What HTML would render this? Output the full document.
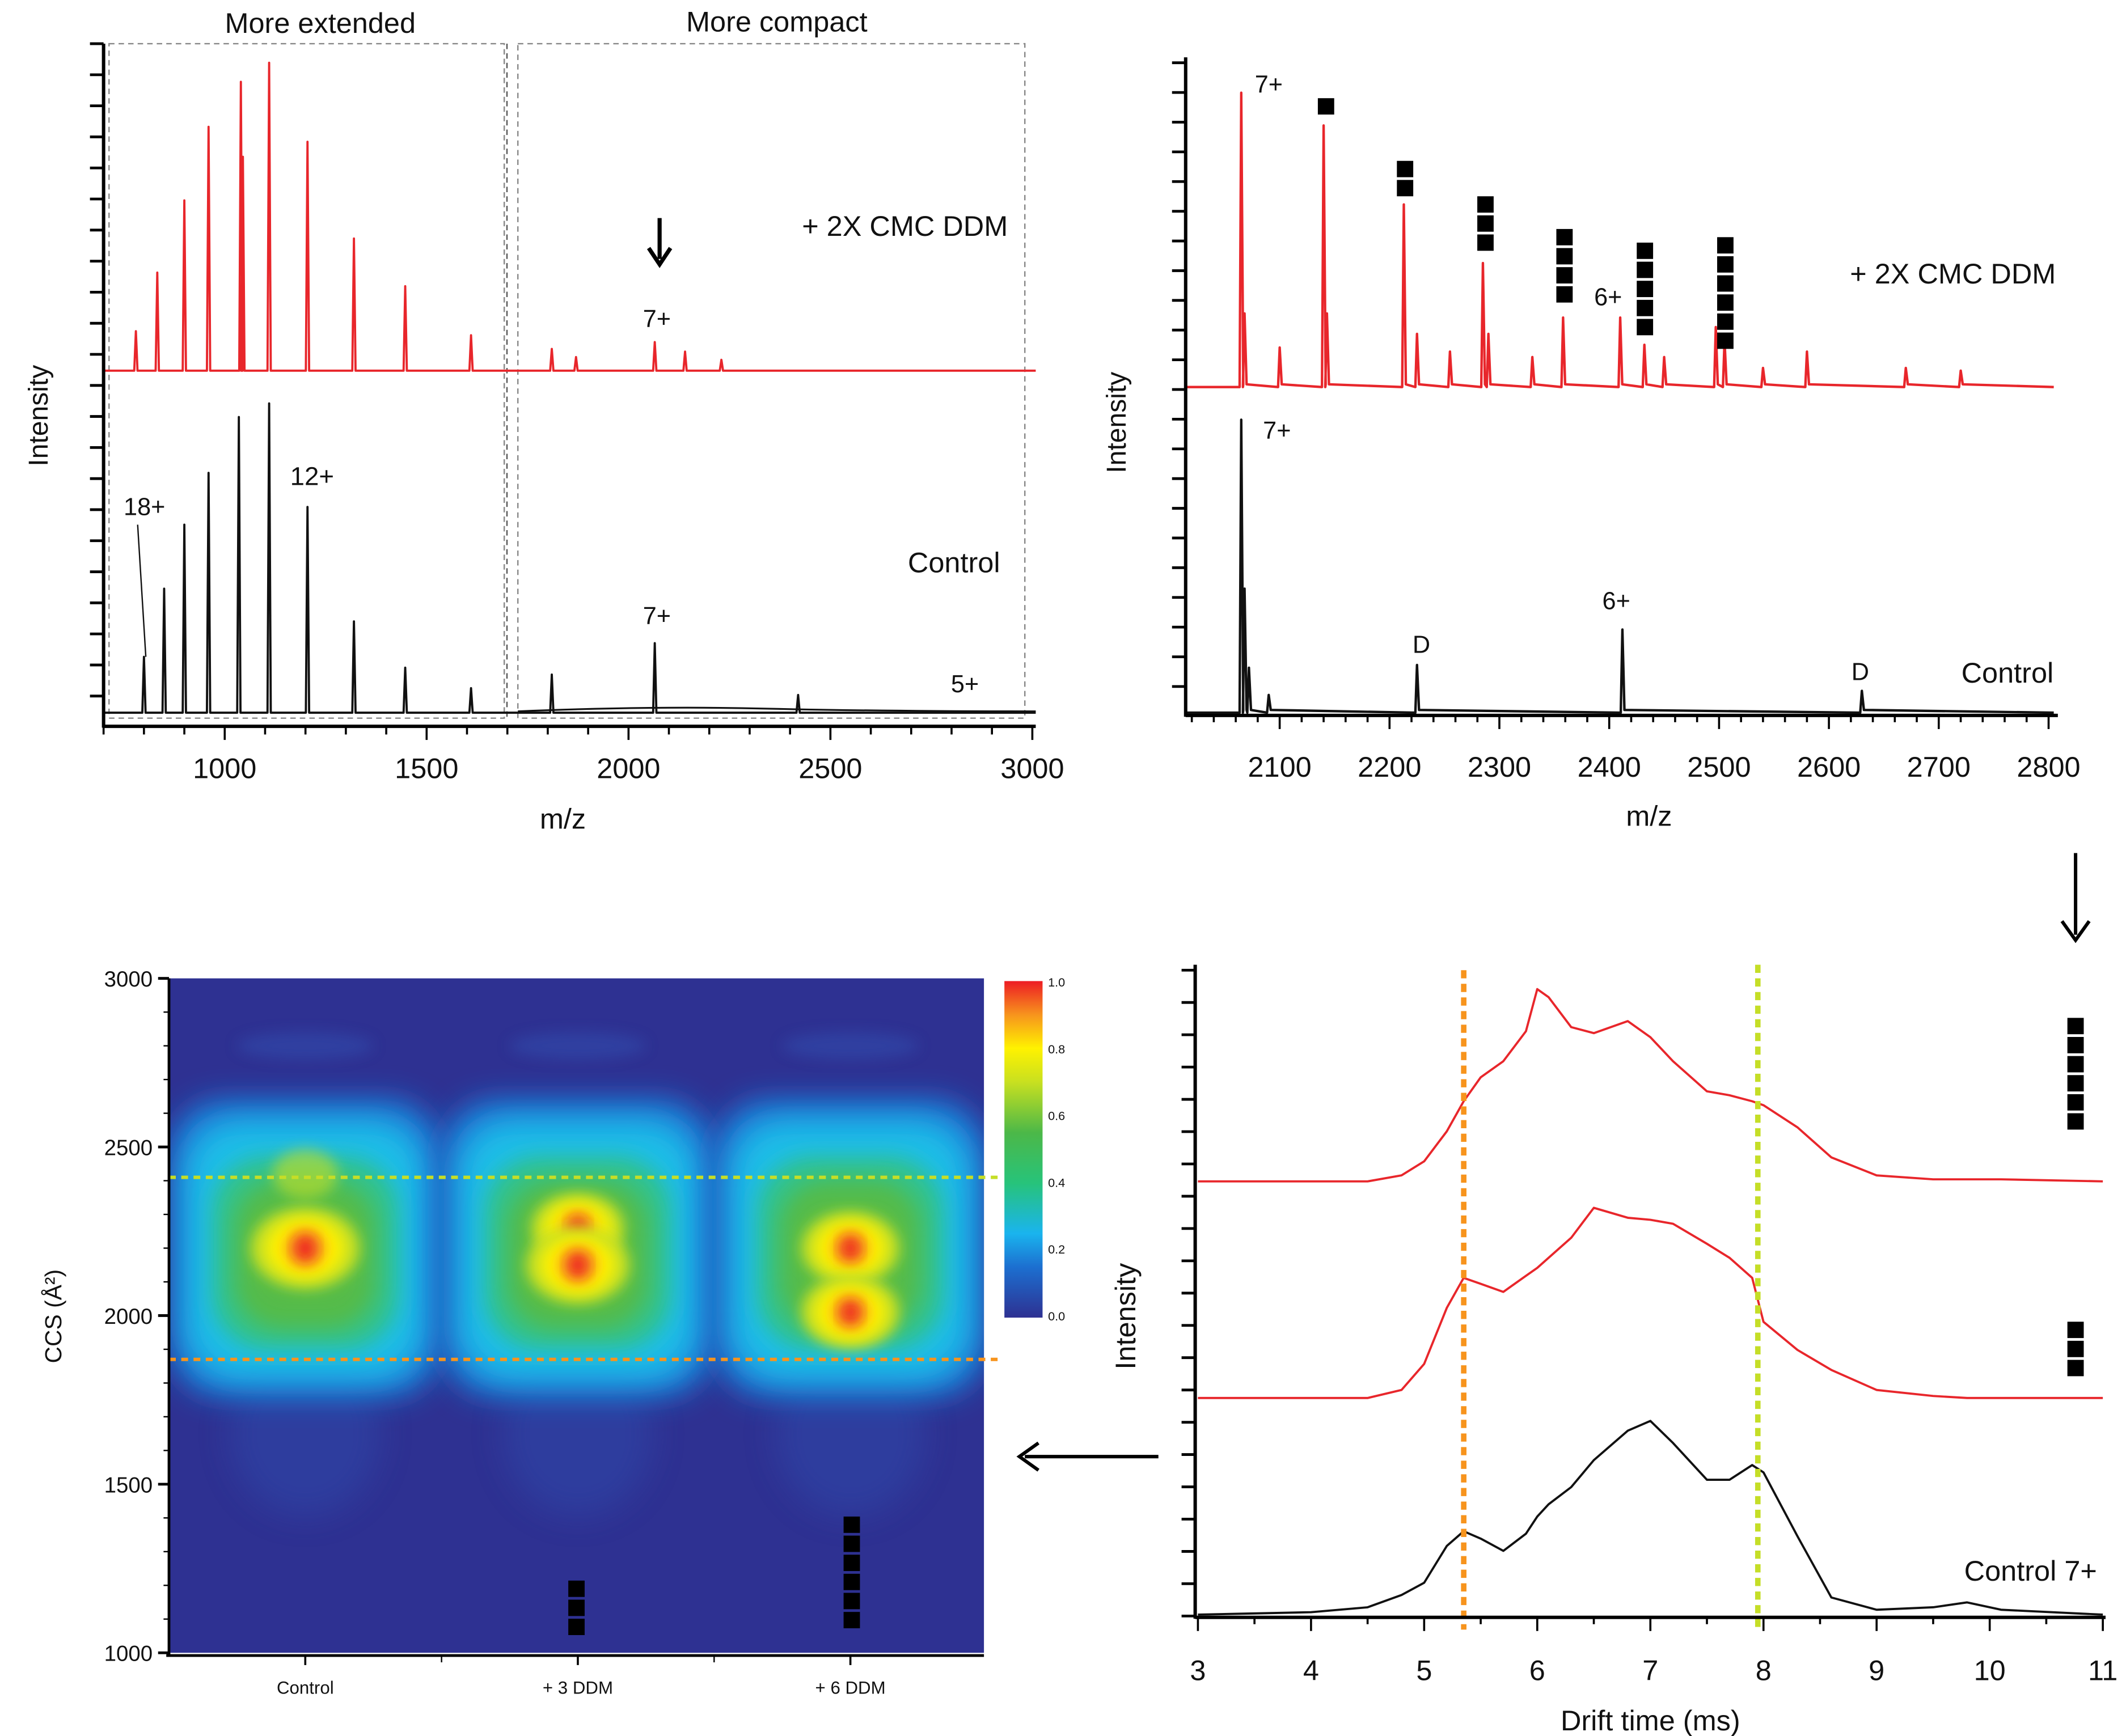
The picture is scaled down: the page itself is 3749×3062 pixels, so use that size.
<!DOCTYPE html>
<html><head><meta charset="utf-8">
<style>
html,body{margin:0;padding:0;background:#fff;}
svg{display:block;font-family:"Liberation Sans",sans-serif;}
</style></head>
<body>
<svg id="fig" width="3749" height="3062" viewBox="0 0 1560 1274" xmlns="http://www.w3.org/2000/svg">
<defs>
<filter id="blur10" x="-50%" y="-50%" width="200%" height="200%"><feGaussianBlur stdDeviation="11"/></filter>
<filter id="blur8" x="-50%" y="-50%" width="200%" height="200%"><feGaussianBlur stdDeviation="8"/></filter>
<filter id="blur5" x="-50%" y="-50%" width="200%" height="200%"><feGaussianBlur stdDeviation="5"/></filter>
<linearGradient id="cbar" x1="0" y1="1" x2="0" y2="0">
<stop offset="0" stop-color="#2e3192"/><stop offset="0.15" stop-color="#1c6fd0"/><stop offset="0.25" stop-color="#1ab4ee"/>
<stop offset="0.4" stop-color="#27c37a"/><stop offset="0.55" stop-color="#4cb848"/><stop offset="0.7" stop-color="#c8e020"/>
<stop offset="0.8" stop-color="#fff200"/><stop offset="0.9" stop-color="#f7941d"/><stop offset="1" stop-color="#ed1c24"/>
</linearGradient>
<clipPath id="hmclip"><rect x="124" y="718" width="598" height="495"/></clipPath>
</defs>
<g id="root"></g>
</svg>
<script>
// ---------- data ----------
const msA_red_mz = [780,833,900,960,1040,1045,1110,1205,1320,1447,1610,1810,1870,2065,2140,2230];
const msA_red_top = [243,200,147,93,60,115,46,104,175,210,246,256,262,251,258,264];
const msA_blk_mz = [800,850,900,960,1035,1110,1205,1320,1447,1610,1810,2065,2420];
const msA_blk_top = [482,432,385,347,306,296,372,456,490,505,495,472,510];
const msA_ticks = [1000,1500,2000,2500,3000];

const msB_red_mz = [2065,2068,2100,2140,2143,2213,2225,2255,2285,2290,2330,2358,2410,2432,2450,2497,2505,2540,2580,2670,2720];
const msB_red_top = [68,230,255,92,230,150,245,258,193,245,262,233,233,253,262,240,250,270,258,270,272];
const msB_blk_mz = [2065,2068,2072,2090,2225,2412,2630];
const msB_blk_top = [308,432,490,510,488,462,507];
const msB_ticks = [2100,2200,2300,2400,2500,2600,2700,2800];

const ccsTicks = [1000,1500,2000,2500,3000];
const hmConditions = ["Control","+ 3 DDM","+ 6 DDM"];
const hmPeakCCS = [[2200,2420],[2260,2150],[2200,2010]];
const hmPeakInt = [[1.0,0.35],[0.85,0.95],[0.9,0.9]];
const cbarTicks = ["1.0","0.8","0.6","0.4","0.2","0.0"];

const dtTicks = [3,4,5,6,7,8,9,10,11];
const dtTimes = [3,4,4.5,4.8,5,5.2,5.35,5.5,5.7,5.9,6.0,6.1,6.3,6.5,6.8,7.0,7.2,7.5,7.7,7.9,8.0,8.3,8.6,9,9.5,9.8,10.1,11];
const dtTop = [0,0,0,0.03,0.1,0.25,0.4,0.52,0.6,0.75,0.96,0.92,0.77,0.74,0.8,0.72,0.6,0.45,0.43,0.4,0.38,0.27,0.12,0.03,0.01,0.01,0.01,0];
const dtMid = [0,0,0,0.04,0.17,0.45,0.6,0.57,0.53,0.61,0.65,0.7,0.8,0.95,0.9,0.89,0.87,0.77,0.7,0.6,0.38,0.24,0.14,0.04,0.01,0,0,0];
const dtCtl = [0,0.01,0.03,0.08,0.13,0.28,0.34,0.31,0.26,0.33,0.4,0.45,0.52,0.63,0.75,0.79,0.7,0.55,0.55,0.61,0.58,0.32,0.07,0.02,0.03,0.05,0.02,0];

// ---------- helpers ----------
const NS="http://www.w3.org/2000/svg";
const root=document.getElementById('root');
function el(tag,attrs,parent){const e=document.createElementNS(NS,tag);for(const k in attrs)e.setAttribute(k,attrs[k]);(parent||root).appendChild(e);return e;}
function txt(x,y,s,size,anchor,name,extra){const t=el('text',Object.assign({x:x,y:y,'font-size':size,'text-anchor':anchor||'start',fill:'#111'},extra||{}));t.textContent=s;


return t;}
function squares(x,y,n,s,name){const g=el('g',{});


for(let i=0;i<n;i++)el('rect',{x:x,y:y+i*(s+2),width:s,height:s,fill:'#000'},g);}

// ---------- panel A ----------
const axA=v=>76+(v-700)*0.2963;
(function(){
  const g=el('g',{});
  
  
  el('rect',{x:80,y:32,width:290,height:495,fill:'none',stroke:'#888','stroke-dasharray':'4 3','stroke-width':1},g);
  el('rect',{x:380,y:32,width:372,height:495,fill:'none',stroke:'#888','stroke-dasharray':'4 3','stroke-width':1},g);
  el('line',{x1:372,y1:32,x2:372,y2:527,stroke:'#555','stroke-dasharray':'4 3'},g);
  txt(235,24,"More extended",21,'middle','label-more-extended');
  txt(570,23,"More compact",21,'middle','label-more-compact');
  function spec(mz,top,base,color,name){
    let d=`M76 ${base}`;
    const idx=mz.map((m,i)=>i).sort((a,b)=>mz[a]-mz[b]);
    idx.forEach(i=>{const x=axA(mz[i]);d+=` L${x-1.2} ${base} L${x} ${top[i]} L${x+1.2} ${base}`;});
    d+=` L760 ${base}`;
    const p=el('path',{d:d,fill:'none',stroke:color,'stroke-width':1.6,'stroke-linejoin':'round'},g);
    
    
  }
  spec(msA_red_mz,msA_red_top,272,'#e8262b','spectrum-2x-cmc-ddm');
  spec(msA_blk_mz,msA_blk_top,523,'#111','spectrum-control');
  el('path',{d:'M380 522 Q480 518 560 520 Q650 522 760 522',fill:'none',stroke:'#111','stroke-width':1.3},g);
  el('line',{x1:101,y1:385,x2:107,y2:482,stroke:'#111','stroke-width':1},g);
  el('line',{x1:76,y1:32,x2:76,y2:534,stroke:'#000','stroke-width':2.5},g);
  el('line',{x1:76,y1:533,x2:760,y2:533,stroke:'#000','stroke-width':2.5},g);
  for(let y=32;y<=533;y+=22.8){el('line',{x1:66,y1:y,x2:76,y2:y,stroke:'#000','stroke-width':2},g);}
  for(let v=700;v<=3000;v+=100){const x=axA(v);el('line',{x1:x,y1:533,x2:x,y2:v%500===0?543:539,stroke:'#000','stroke-width':1.5},g);}
  msA_ticks.forEach(v=>txt(axA(v),571,String(v),21,'middle','x-tick-a-'+v));
  txt(413,608,"m/z",21,'middle','x-axis-title-a');
  txt(35,305,"Intensity",20,'middle','y-axis-title-a',{transform:'rotate(-90 35 305)'});
  txt(664,173,"+ 2X CMC DDM",21,'middle','label-2x-cmc-ddm-a');
  txt(700,420,"Control",21,'middle','label-control-a');
  txt(482,240,"7+",18,'middle','label-7plus-red-a');
  txt(482,458,"7+",18,'middle','label-7plus-black-a');
  txt(106,378,"18+",18,'middle','label-18plus');
  txt(229,356,"12+",19,'middle','label-12plus');
  txt(708,508,"5+",18,'middle','label-5plus');
  el('line',{x1:484,y1:160,x2:484,y2:190,stroke:'#000','stroke-width':3},g);
  el('path',{d:'M476 182 L484 194 L492 182',fill:'none',stroke:'#000','stroke-width':3},g);
})();

// ---------- panel B ----------
const axB=v=>939+(v-2100)*0.806;
(function(){
  const g=el('g',{});
  
  
  function spec(mz,top,base,color,name){
    let d=`M870 ${base}`;
    const idx=mz.map((m,i)=>i).sort((a,b)=>mz[a]-mz[b]);
    idx.forEach(i=>{const x=axB(mz[i]);d+=` L${x-1.2} ${base} L${x} ${top[i]} L${x+1.5} ${base-2}`;});
    d+=` L1507 ${base}`;
    const p=el('path',{d:d,fill:'none',stroke:color,'stroke-width':1.8,'stroke-linejoin':'round'},g);
    
    
  }
  spec(msB_red_mz,msB_red_top,284,'#e8262b','spectrum-b-2x-cmc-ddm');
  spec(msB_blk_mz,msB_blk_top,523,'#111','spectrum-b-control');
  el('line',{x1:870,y1:42,x2:870,y2:526,stroke:'#000','stroke-width':2.5},g);
  el('line',{x1:870,y1:525,x2:1510,y2:525,stroke:'#000','stroke-width':2.5},g);
  for(let y=46;y<=525;y+=21.8){el('line',{x1:860,y1:y,x2:870,y2:y,stroke:'#000','stroke-width':2},g);}
  for(let v=2020;v<=2800;v+=20){const x=axB(v);el('line',{x1:x,y1:525,x2:x,y2:v%100===0?535:530,stroke:'#000','stroke-width':1.5},g);}
  msB_ticks.forEach(v=>txt(axB(v),570,String(v),21,'middle','x-tick-b-'+v));
  txt(1210,606,"m/z",21,'middle','x-axis-title-b');
  txt(826,310,"Intensity",20,'middle','y-axis-title-b',{transform:'rotate(-90 826 310)'});
  txt(1433,208,"+ 2X CMC DDM",21,'middle','label-2x-cmc-ddm-b');
  txt(1473,501,"Control",21,'middle','label-control-b');
  txt(931,68,"7+",18,'middle','label-7plus-red-b');
  txt(937,322,"7+",18,'middle','label-7plus-black-b');
  txt(1180,224,"6+",18,'middle','label-6plus-red-b');
  txt(1186,447,"6+",18,'middle','label-6plus-black-b');
  txt(1043,479,"D",18,'middle','label-dimer-1');
  txt(1365,499,"D",18,'middle','label-dimer-2');
  squares(967,72,1,12,'adduct-1-ddm-b');
  squares(1025,118,2,12,'adduct-2-ddm-b');
  squares(1084,144,3,12,'adduct-3-ddm-b');
  squares(1142,168,4,12,'adduct-4-ddm-b');
  squares(1201,178,5,12,'adduct-5-ddm-b');
  squares(1260,174,6,12,'adduct-6-ddm-b');
  el('line',{x1:1523,y1:626,x2:1523,y2:686,stroke:'#000','stroke-width':2.5},g);
  el('path',{d:'M1513 676 L1523 690 L1533 676',fill:'none',stroke:'#000','stroke-width':2.5},g);
})();

// ---------- panel C heatmap ----------
const ccsY=v=>1213-(v-1000)*0.2475;
const condX=i=>224+i*200;
(function(){
  const g=el('g',{});
  
  
  el('rect',{x:124,y:718,width:598,height:495,fill:'#2e3192'},g);
  const hg=el('g',{'clip-path':'url(#hmclip)'},g);
  hmConditions.forEach((c,i)=>{
    const cx=condX(i);
    const ccs=hmPeakCCS[i], it=hmPeakInt[i];
    const cg=el('g',{},hg);
    
    
    el('ellipse',{cx:cx,cy:ccsY(1650),rx:55,ry:60,fill:'#2d4aaa',opacity:0.5,filter:'url(#blur10)'},cg);
    el('ellipse',{cx:cx,cy:ccsY(2800),rx:50,ry:10,fill:'#3050b0',opacity:0.5,filter:'url(#blur5)'},cg);
    el('rect',{x:cx-100,y:ccsY(2640),width:200,height:ccsY(1760)-ccsY(2640),rx:40,fill:'#1a7cd8',filter:'url(#blur10)'},cg);
    el('rect',{x:cx-88,y:ccsY(2580),width:176,height:ccsY(1810)-ccsY(2580),rx:40,fill:'#1fbde8',filter:'url(#blur10)'},cg);
    el('rect',{x:cx-68,y:ccsY(2470),width:136,height:ccsY(1900)-ccsY(2470),rx:40,fill:'#33c28a',filter:'url(#blur8)'},cg);
    el('rect',{x:cx-52,y:ccsY(2400),width:104,height:ccsY(1960)-ccsY(2400),rx:35,fill:'#55bb48',filter:'url(#blur8)'},cg);
    ccs.forEach((v,j)=>{
      const a=it[j];
      el('ellipse',{cx:cx,cy:ccsY(v),rx:40*Math.max(a,0.6),ry:30*Math.max(a,0.6),fill:'#c8e020',opacity:a<0.5?0.6:1,filter:'url(#blur5)'},cg);
      if(a>=0.5){
      el('ellipse',{cx:cx,cy:ccsY(v),rx:28*a,ry:22*a,fill:'#fff200',filter:'url(#blur5)'},cg);
      el('ellipse',{cx:cx,cy:ccsY(v),rx:15*a,ry:14*a,fill:'#f7941d',filter:'url(#blur5)'},cg);
      el('ellipse',{cx:cx,cy:ccsY(v),rx:7*a,ry:9*a,fill:'#ed1c24',filter:'url(#blur5)'},cg);}
    });
  });
  el('line',{x1:124,y1:ccsY(2410),x2:735,y2:ccsY(2410),stroke:'#c5de27','stroke-width':2.5,'stroke-dasharray':'5 4'},g);
  el('line',{x1:124,y1:ccsY(1870),x2:735,y2:ccsY(1870),stroke:'#f7941d','stroke-width':2.5,'stroke-dasharray':'5 4'},g);
  el('line',{x1:124,y1:718,x2:124,y2:1216,stroke:'#000','stroke-width':2},g);
  el('line',{x1:122,y1:1215,x2:722,y2:1215,stroke:'#000','stroke-width':2},g);
  ccsTicks.forEach(v=>{el('line',{x1:116,y1:ccsY(v),x2:124,y2:ccsY(v),stroke:'#000','stroke-width':2},g);
    txt(112,ccsY(v)+6,String(v),16,'end','y-tick-ccs-'+v);});
  for(let v=1100;v<3000;v+=100){if(v%500)el('line',{x1:120,y1:ccsY(v),x2:124,y2:ccsY(v),stroke:'#000'},g);}
  hmConditions.forEach((c,i)=>{el('line',{x1:condX(i),y1:1215,x2:condX(i),y2:1222,stroke:'#000','stroke-width':1.5},g);
    txt(condX(i),1243,c,13,'middle','x-tick-condition-'+i);});
  [324,524].forEach(x=>el('line',{x1:x,y1:1215,x2:x,y2:1220,stroke:'#000'},g));
  txt(45,966,"CCS (Å²)",17,'middle','y-axis-title-ccs',{transform:'rotate(-90 45 966)'});
  const cb=el('rect',{x:737,y:720,width:28,height:247,fill:'url(#cbar)'},g);
  
  
  cbarTicks.forEach((t,i)=>txt(769,724+i*49,t,9,'start','colorbar-tick-'+t));
  squares(417,1160,3,12,'adduct-3-ddm-c');
  squares(619,1113,6,12,'adduct-6-ddm-c');
  el('line',{x1:850,y1:1069,x2:752,y2:1069,stroke:'#000','stroke-width':2.5},g);
  el('path',{d:'M762 1059 L748 1069 L762 1079',fill:'none',stroke:'#000','stroke-width':2.5},g);
})();

// ---------- panel D drift time ----------
const dtX=t=>879+(t-3)*83;
(function(){
  const g=el('g',{});
  
  
  function trace(vals,base,amp,color,name){
    const d=dtTimes.map((t,i)=>(i?'L':'M')+dtX(t).toFixed(1)+' '+(base-vals[i]*amp).toFixed(1)).join(' ');
    const p=el('path',{d:d,fill:'none',stroke:color,'stroke-width':1.6,'stroke-linejoin':'round'},g);
    
    
  }
  trace(dtTop,867,147,'#e8262b','trace-6-ddm');
  trace(dtMid,1026,147,'#e8262b','trace-3-ddm');
  trace(dtCtl,1185,180,'#111','trace-control-7plus');
  el('line',{x1:dtX(5.35),y1:712,x2:dtX(5.35),y2:1196,stroke:'#f7941d','stroke-width':4,'stroke-dasharray':'6 4'},g);
  el('line',{x1:dtX(7.95),y1:708,x2:dtX(7.95),y2:1196,stroke:'#c5de27','stroke-width':4,'stroke-dasharray':'6 4'},g);
  el('line',{x1:877,y1:708,x2:877,y2:1188,stroke:'#000','stroke-width':2.5},g);
  el('line',{x1:877,y1:1187,x2:1545,y2:1187,stroke:'#000','stroke-width':2.5},g);
  for(let y=712;y<=1187;y+=23.7){el('line',{x1:867,y1:y,x2:877,y2:y,stroke:'#000','stroke-width':2},g);}
  for(let t=3;t<=11.001;t+=0.5){const x=dtX(t);el('line',{x1:x,y1:1187,x2:x,y2:Number.isInteger(t)?1197:1192,stroke:'#000','stroke-width':1.5},g);}
  dtTicks.forEach(t=>txt(dtX(t),1233,String(t),21,'middle','x-tick-dt-'+t));
  txt(1211,1270,"Drift time (ms)",21,'middle','x-axis-title-dt');
  txt(833,966,"Intensity",21,'middle','y-axis-title-dt',{transform:'rotate(-90 833 966)'});
  txt(1490,1160,"Control 7+",21,'middle','label-control-7plus');
  squares(1517,747,6,12,'adduct-6-ddm-d');
  squares(1517,970,3,12,'adduct-3-ddm-d');
})();
</script>
</body></html>
